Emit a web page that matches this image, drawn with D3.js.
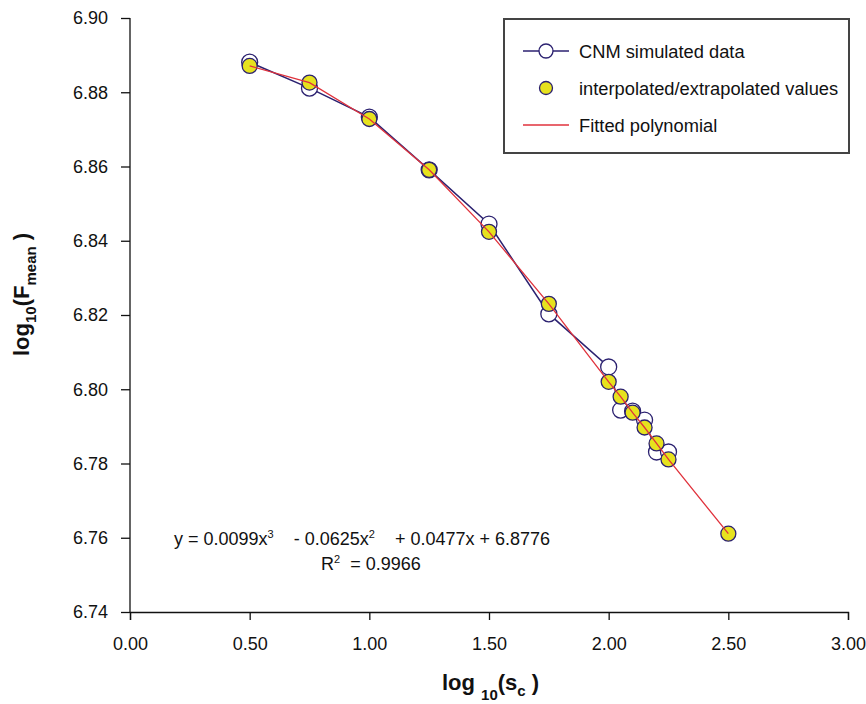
<!DOCTYPE html>
<html>
<head>
<meta charset="utf-8">
<script src="https://cdn.jsdelivr.net/npm/d3@7"></script>
<style>
  body { margin: 0; background: #fff; }
  svg text { font-family: "Liberation Sans", Arial, sans-serif; fill: #111; }
</style>
</head>
<body>
<div id="chart"></div>
<script>
const xTicks = [0, 0.5, 1.0, 1.5, 2.0, 2.5, 3.0];
const yTicks = [6.74, 6.76, 6.78, 6.80, 6.82, 6.84, 6.86, 6.88, 6.90];

// CNM simulated data
const simX = [0.5, 0.75, 1.0, 1.25, 1.5, 1.75, 2.0, 2.05, 2.1, 2.15, 2.2, 2.25];
const simY = [6.8881, 6.8811, 6.8733, 6.8591, 6.8445, 6.8203, 6.8060, 6.7944, 6.7941, 6.7917, 6.7831, 6.7831];

// interpolated / extrapolated values
const intX = [0.5, 0.75, 1.0, 1.25, 1.5, 1.75, 2.0, 2.05, 2.1, 2.15, 2.2, 2.25, 2.5];
const intY = [6.8871, 6.8826, 6.8728, 6.8591, 6.8424, 6.8230, 6.8020, 6.7980, 6.7937, 6.7897, 6.7854, 6.7811, 6.7611];

const legendLabels = ["CNM simulated data", "interpolated/extrapolated values", "Fitted polynomial"];

const W = 866, H = 704;
const margin = { top: 18, right: 18, bottom: 92, left: 130 };
const height = H - margin.top - margin.bottom;

const svg = d3.select("#chart").append("svg")
    .attr("width", W)
    .attr("height", H);

const g = svg.append("g")
    .attr("transform", `translate(${margin.left},${margin.top})`);

const x = d3.scaleLinear().domain([0, 3]).range([0, 718]);
const y = d3.scaleLinear().domain([6.74, 6.90]).range([height, 0]);

const navy = "#2b2170";
const red = "#e0323c";
const yellow = "#e6e21e";
const font = "'Liberation Sans', Arial, sans-serif";

// axes
const xAxis = g.append("g")
    .attr("transform", `translate(0,${height})`)
    .call(d3.axisBottom(x).tickValues(xTicks).tickFormat(d3.format(".2f")).tickSizeOuter(0).tickSize(8).tickPadding(17));
const yAxis = g.append("g")
    .call(d3.axisLeft(y).tickValues(yTicks).tickFormat(d3.format(".2f")).tickSizeOuter(0).tickSize(9).tickPadding(13));

[xAxis, yAxis].forEach(a => {
    a.selectAll("path, line").attr("stroke", "#111").attr("stroke-width", 1.3);
    a.selectAll("text").attr("font-size", 18).attr("fill", "#111").attr("font-family", font);
});
yAxis.select(".domain").attr("d", `M0,${height}V0`);

// CNM line + markers
const pts = simX.map((d, i) => [d, simY[i]]);
const ipts = intX.map((d, i) => [d, intY[i]]);

const line = d3.line().x(d => x(d[0])).y(d => y(d[1]));

g.append("path")
    .datum(pts)
    .attr("fill", "none")
    .attr("stroke", navy)
    .attr("stroke-width", 1.5)
    .attr("d", line);

g.selectAll("circle.sim")
    .data(pts)
    .enter().append("circle")
    .attr("class", "sim")
    .attr("cx", d => x(d[0]))
    .attr("cy", d => y(d[1]))
    .attr("r", 8)
    .attr("fill", "#fff")
    .attr("stroke", navy)
    .attr("stroke-width", 1.3);

g.selectAll("circle.int")
    .data(ipts)
    .enter().append("circle")
    .attr("class", "int")
    .attr("cx", d => x(d[0]))
    .attr("cy", d => y(d[1]))
    .attr("r", 7.5)
    .attr("fill", yellow)
    .attr("stroke", navy)
    .attr("stroke-width", 1.3);

g.append("path")
    .datum(ipts)
    .attr("fill", "none")
    .attr("stroke", red)
    .attr("stroke-width", 1.3)
    .attr("d", line);

// equation
const eq = svg.append("text")
    .attr("x", 174)
    .attr("y", 545)
    .attr("font-size", 18)
    .attr("xml:space", "preserve");
eq.append("tspan").text("y = 0.0099x");
eq.append("tspan").attr("font-size", 11).attr("dy", -7).text("3");
eq.append("tspan").attr("dy", 7).text("    - 0.0625x");
eq.append("tspan").attr("font-size", 11).attr("dy", -7).text("2");
eq.append("tspan").attr("dy", 7).text("    + 0.0477x + 6.8776");

const r2 = svg.append("text")
    .attr("x", 321)
    .attr("y", 570)
    .attr("font-size", 18)
    .attr("xml:space", "preserve");
r2.append("tspan").text("R");
r2.append("tspan").attr("font-size", 11).attr("dy", -7).text("2");
r2.append("tspan").attr("dy", 7).text("  = 0.9966");

// axis titles
const xt = svg.append("text")
    .attr("x", 442)
    .attr("y", 690)
    .attr("font-size", 22)
    .attr("font-weight", "bold")
    .attr("xml:space", "preserve");
xt.append("tspan").text("log ");
xt.append("tspan").attr("font-size", 15).attr("dy", 10).text("10");
xt.append("tspan").attr("dy", -10).text("(s");
xt.append("tspan").attr("font-size", 15).attr("dy", 6).text("c");
xt.append("tspan").attr("dy", -6).text(" )");

const yt = svg.append("text")
    .attr("transform", "translate(29,356) rotate(-90)")
    .attr("font-size", 22)
    .attr("font-weight", "bold")
    .attr("xml:space", "preserve");
yt.append("tspan").text("log");
yt.append("tspan").attr("font-size", 15).attr("dy", 7).text("10");
yt.append("tspan").attr("dy", -7).text("(F");
yt.append("tspan").attr("font-size", 15).attr("dy", 7).text("mean");
yt.append("tspan").attr("dy", -7).text(" )");

// legend
const lg = svg.append("g").attr("transform", "translate(503,18)");
lg.append("rect")
    .attr("x", 1).attr("y", 1)
    .attr("width", 345).attr("height", 134)
    .attr("fill", "none")
    .attr("stroke", "#444")
    .attr("stroke-width", 2);

const rows = [33, 70, 107];
lg.append("line").attr("x1", 20).attr("x2", 66).attr("y1", rows[0]).attr("y2", rows[0])
    .attr("stroke", navy).attr("stroke-width", 1.5);
lg.append("circle").attr("cx", 43).attr("cy", rows[0]).attr("r", 7)
    .attr("fill", "#fff").attr("stroke", navy).attr("stroke-width", 1.3);
lg.append("circle").attr("cx", 43).attr("cy", rows[1]).attr("r", 6.5)
    .attr("fill", yellow).attr("stroke", navy).attr("stroke-width", 1.3);
lg.append("line").attr("x1", 20).attr("x2", 66).attr("y1", rows[2]).attr("y2", rows[2])
    .attr("stroke", red).attr("stroke-width", 1.5);

lg.selectAll("text.lab")
    .data(legendLabels)
    .enter().append("text")
    .attr("class", "lab")
    .attr("x", 76)
    .attr("y", (d, i) => rows[i] + 6.5)
    .attr("font-size", 18.3)
    .text(d => d);
</script>
</body>
</html>
